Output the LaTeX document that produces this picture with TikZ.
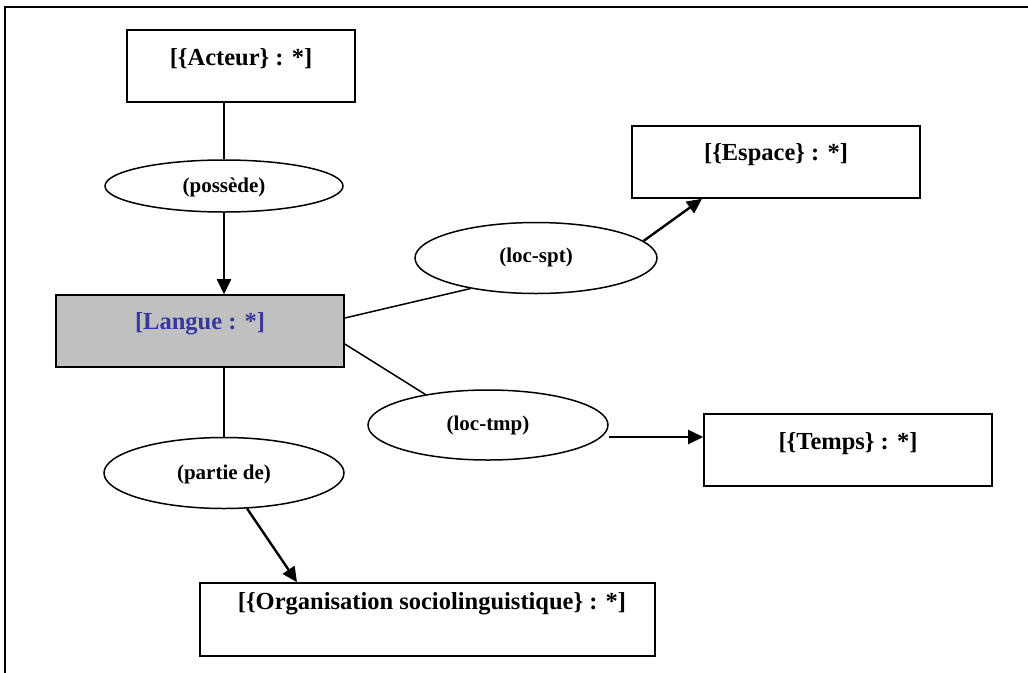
\documentclass[tikz,border=0pt]{standalone}
\usepackage{fontspec}
\setmainfont{Liberation Serif}
\usetikzlibrary{arrows.meta,shapes.geometric}
\definecolor{langfill}{RGB}{192,192,192}
\definecolor{langtext}{RGB}{55,55,160}
\tikzset{
  concept/.style={draw=black, line width=1.6pt, rectangle, inner sep=0pt},
  relation/.style={draw=black, line width=1.5pt, ellipse, inner sep=0pt},
  boxtext/.style={font=\bfseries\fontsize{24.5}{28}\selectfont, inner sep=0pt},
  reltext/.style={font=\bfseries\fontsize{21}{24}\selectfont, inner sep=0pt},
  link/.style={line width=1.5pt},
  arrowlink/.style={line width=2.4pt, -{Triangle[length=15pt,width=14pt]}},
  frameline/.style={line width=2pt}
}
\begin{document}
\begin{tikzpicture}[x=1pt,y=-1pt]
\useasboundingbox (0,0) rectangle (1028,672);
% outer frame
\coordinate (fbl) at (5,690);
\coordinate (ftl) at (5,7);
\coordinate (ftr) at (1040,7);
\draw[frameline] (fbl) -- (ftl) -- (ftr);
% concept boxes
\node[concept, minimum width=228pt, minimum height=72pt] (act) at (241,66) {};
\node[concept, minimum width=288pt, minimum height=72pt] (esp) at (776,162) {};
\node[concept, fill=langfill, minimum width=288pt, minimum height=72pt] (lang) at (200,331) {};
\node[concept, minimum width=288pt, minimum height=72pt] (tmp) at (848,450) {};
\node[concept, minimum width=455pt, minimum height=73pt] (org) at (427.5,619.5) {};
\node[boxtext] (actT) at (241,59) {[\{Acteur\} : *]};
\node[boxtext] (espT) at (776,155) {[\{Espace\} : *]};
\node[boxtext, text=langtext] (langT) at (200,324) {[Langue : *]};
\node[boxtext] (tmpT) at (848,444) {[\{Temps\} : *]};
\node[boxtext] (orgT) at (432,604) {[\{Organisation sociolinguistique\} : *]};
% relation ellipses
\node[relation, minimum width=238pt, minimum height=52pt] (pos) at (224,186) {};
\node[reltext] (posT) at (224,187) {(possède)};
\node[relation, minimum width=242pt, minimum height=71pt] (spt) at (536,258) {};
\node[reltext] (sptT) at (536,257) {(loc-spt)};
\node[relation, minimum width=240pt, minimum height=70pt] (ltmp) at (488,425) {};
\node[reltext] (ltmpT) at (488,425) {(loc-tmp)};
\node[relation, minimum width=240pt, minimum height=71pt] (par) at (224,473) {};
\node[reltext] (parT) at (224,474) {(partie de)};
% connectors
\draw[link] (pos.north |- act.south) -- (pos.north);
\draw[arrowlink] (pos.south) -- (pos.south |- lang.north);
\draw[link] (lang.east |- 0,318) -- (spt.205.6);
\draw[arrowlink] (spt.9) -- (esp.south -| 702,0);
\draw[link] (lang.east |- 0,344) -- (ltmp.154.7);
\draw[arrowlink] (ltmp.east |- 0,437) -- (tmp.west |- 0,437);
\draw[link] (par.north |- lang.south) -- (par.north);
\draw[arrowlink] (par.-57.7) -- (org.north -| 297,0);
\end{tikzpicture}
\end{document}
